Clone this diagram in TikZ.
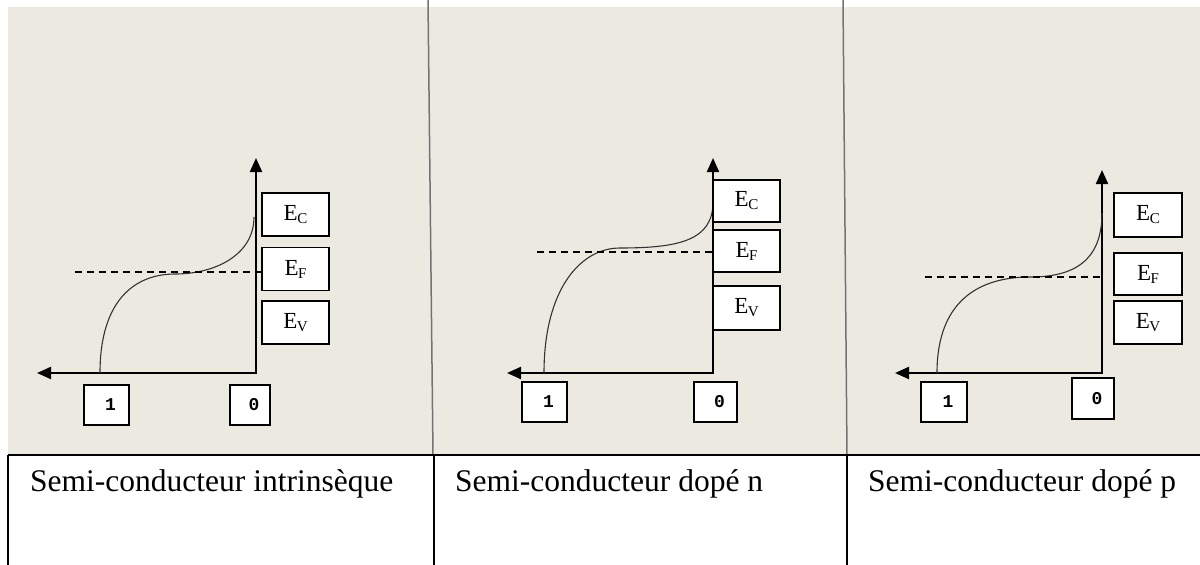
\documentclass[tikz,border=0pt]{standalone}
\usepackage{fontspec}
\setmainfont{Liberation Serif}
\newfontfamily\digitfont{Liberation Mono}
\usetikzlibrary{arrows.meta}
\definecolor{paper}{RGB}{236,233,224}
\definecolor{rulegray}{RGB}{115,115,115}
% energy level label: E with a small lowered capital
\newcommand\lvl[1]{E\kern-0.5pt\raisebox{-3pt}{\fontsize{15}{15}\selectfont #1}}

\begin{document}
\begin{tikzpicture}[x=1pt,y=-1pt,
  axis/.style={line width=2.2pt, line join=miter,
    {Triangle[length=14pt,width=12pt]}-{Triangle[length=14pt,width=12pt]}},
  occ/.style={line width=1.1pt, draw=black!80},
  fermi/.style={line width=1.6pt, dash pattern=on 7pt off 5pt},
  level/.style={draw, line width=1.6pt, fill=white, minimum width=67pt,
    minimum height=43pt, inner sep=0pt, font=\fontsize{23}{23}\selectfont},
  tick/.style={draw, line width=1.6pt, fill=white, minimum height=40pt,
    inner sep=0pt, font=\digitfont\bfseries\fontsize{18}{18}\selectfont},
  caption/.style={anchor=base west, inner sep=0pt, font=\fontsize{31.5}{31.5}\selectfont}
]
\useasboundingbox (0,0) rectangle (1200,565);

% table: shaded upper row, white caption row
\fill[paper] (8,7) rectangle (1200,455);
\draw[rulegray, line width=1.5pt] (428,0) -- (433,455);
\draw[rulegray, line width=1.5pt] (843,0) -- (847,455);
\draw[line width=1.8pt] (8,455) -- (1200,455);
\draw[line width=1.4pt] (8,455) -- (8,565);
\draw[line width=1.4pt] (434,455) -- (434,565);
\draw[line width=1.4pt] (847,455) -- (847,565);

\node[caption] (cap1) at (30,491) {Semi-conducteur intrinsèque};
\node[caption] (cap2) at (455,491) {Semi-conducteur dopé n};
\node[caption] (cap3) at (868,491) {Semi-conducteur dopé p};

% ---------- intrinsic ----------
\coordinate (O1) at (256,373);
\coordinate (T1) at (256,158);
\coordinate (L1) at (37,373);
\coordinate (S1) at (100,373);
\coordinate (M1) at (175,274);
\coordinate (E1) at (254,217);
\coordinate (D1) at (75,272);
\draw[axis] (T1) -- (O1) -- (L1);
\draw[occ] (S1) .. controls (100,300) and (135,274) .. (M1)
                .. controls (215,274) and (254,255) .. (E1);
\node[level] (Ec1) at (295.5,214.5) {\lvl{C}};
\node[level] (Ef1) at (295.5,269) {\lvl{F}};
\node[level] (Ev1) at (295.5,322.5) {\lvl{V}};
\draw[fermi] (D1) -- (D1 -| Ef1.west);
\node[tick, minimum width=45pt] (one1) at (106.5,405) {\hspace*{8pt}1};
\node[tick, minimum width=40pt] (zero1) at (250,405) {\hspace*{8pt}0};

% ---------- n-doped ----------
\coordinate (O2) at (713,373);
\coordinate (T2) at (713,158);
\coordinate (L2) at (507,373);
\coordinate (S2) at (544,373);
\coordinate (M2) at (620,248);
\coordinate (E2) at (713,202);
\coordinate (D2) at (537,252);
\draw[axis] (T2) -- (O2) -- (L2);
\draw[occ] (S2) .. controls (544,290) and (580,248) .. (M2)
                .. controls (680,248) and (713,240) .. (E2);
\node[level, minimum height=42pt] (Ec2) at (746.5,201) {\lvl{C}};
\node[level, minimum height=42pt] (Ef2) at (746.5,251) {\lvl{F}};
\node[level, minimum height=44pt] (Ev2) at (746.5,308) {\lvl{V}};
\draw[fermi] (D2) -- (D2 -| Ef2.west);
\node[tick, minimum width=45pt] (one2) at (544.5,402) {\hspace*{8pt}1};
\node[tick, minimum width=43pt] (zero2) at (715.5,402) {\hspace*{8pt}0};

% ---------- p-doped ----------
\coordinate (O3) at (1102,373);
\coordinate (T3) at (1102,170);
\coordinate (L3) at (895,373);
\coordinate (S3) at (937,373);
\coordinate (M3) at (1030,277);
\coordinate (E3) at (1102,213);
\coordinate (D3) at (925,277);
\draw[axis] (T3) -- (O3) -- (L3);
\draw[occ] (S3) .. controls (937,300) and (980,277) .. (M3)
                .. controls (1075,277) and (1102,260) .. (E3);
\node[level, minimum width=68pt, minimum height=44pt] (Ec3) at (1148,215) {\lvl{C}};
\node[level, minimum width=68pt, minimum height=42pt] (Ef3) at (1148,274) {\lvl{F}};
\node[level, minimum width=68pt] (Ev3) at (1148,322.5) {\lvl{V}};
\draw[fermi] (D3) -- (D3 -| O3);
\node[tick, minimum width=46pt] (one3) at (944,402) {\hspace*{8pt}1};
\node[tick, minimum width=42pt, minimum height=41pt] (zero3) at (1093,398.5) {\hspace*{8pt}0};
\end{tikzpicture}
\end{document}
